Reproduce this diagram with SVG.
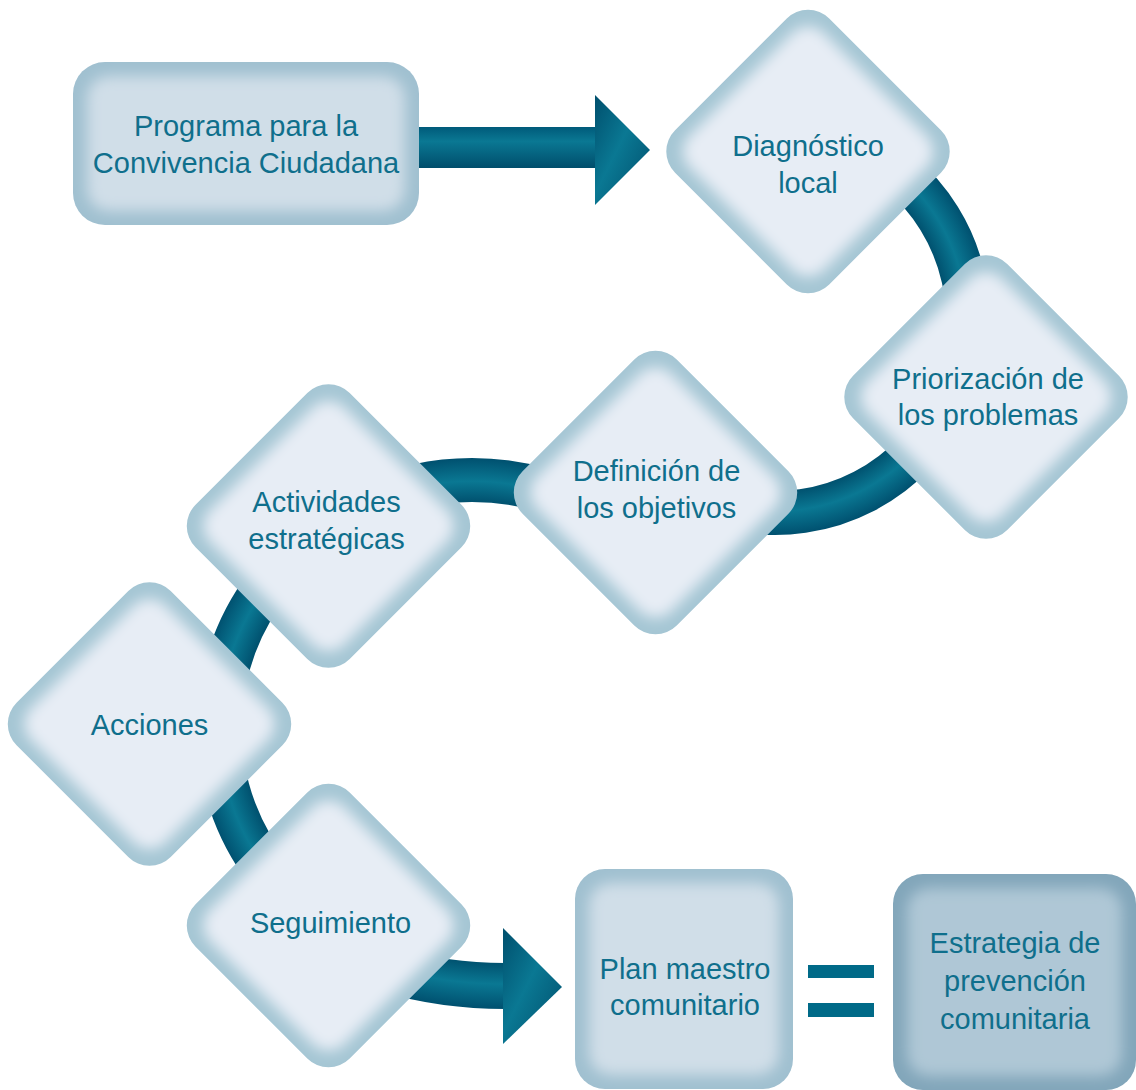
<svg xmlns="http://www.w3.org/2000/svg" xmlns:xlink="http://www.w3.org/1999/xlink" width="1136" height="1090" viewBox="0 0 1136 1090">
<style>
text{font-family:"Liberation Sans",Arial,sans-serif;font-size:29px;fill:#0f6f8c;text-anchor:middle}
.band{fill:none}
.eq{fill:#006a88}
</style>
<defs>
<filter id="blur" x="-20%" y="-20%" width="140%" height="140%"><feGaussianBlur stdDeviation="7"/></filter>
<clipPath id="clipDia"><rect x="-109" y="-109" width="218" height="218" rx="30"/></clipPath>
<g id="dia">
<rect x="-109" y="-109" width="218" height="218" rx="30" fill="#a5c6d4"/>
<g clip-path="url(#clipDia)"><rect x="-95" y="-95" width="190" height="190" rx="22" fill="#e7edf5" filter="url(#blur)"/></g>
</g>
<radialGradient id="g12" gradientUnits="userSpaceOnUse" cx="775" cy="320" r="215">
<stop offset="0.79" stop-color="#004f6d"/><stop offset="0.89" stop-color="#0a7893"/><stop offset="1" stop-color="#00506f"/>
</radialGradient>
<radialGradient id="g3" gradientUnits="userSpaceOnUse" cx="472" cy="731" r="273">
<stop offset="0.835" stop-color="#004f6d"/><stop offset="0.915" stop-color="#0a7893"/><stop offset="1" stop-color="#00506f"/>
</radialGradient>
<radialGradient id="g45" gradientUnits="userSpaceOnUse" cx="454" cy="728" r="258">
<stop offset="0.82" stop-color="#004f6d"/><stop offset="0.91" stop-color="#0a7893"/><stop offset="1" stop-color="#00506f"/>
</radialGradient>
<radialGradient id="g6" gradientUnits="userSpaceOnUse" cx="505" cy="555" r="454">
<stop offset="0.895" stop-color="#004f6d"/><stop offset="0.945" stop-color="#0a7893"/><stop offset="1" stop-color="#00506f"/>
</radialGradient>
<linearGradient id="shaft" x1="0" y1="0" x2="0" y2="1">
<stop offset="0" stop-color="#005a7a"/><stop offset="0.35" stop-color="#0a7893"/><stop offset="1" stop-color="#004d6b"/>
</linearGradient>
<linearGradient id="head" x1="0" y1="0" x2="1" y2="1">
<stop offset="0" stop-color="#004f6d"/><stop offset="0.45" stop-color="#0a7893"/><stop offset="1" stop-color="#004d6b"/>
</linearGradient>
<clipPath id="clipR1"><rect x="73" y="62" width="346" height="163" rx="32"/></clipPath>
<clipPath id="clipR2"><rect x="575" y="869" width="218" height="220" rx="30"/></clipPath>
<clipPath id="clipR3"><rect x="893" y="874" width="243" height="216" rx="30"/></clipPath>
</defs>

<g id="connectors">
<rect x="415" y="127" width="182" height="41" fill="url(#shaft)"/>
<polygon points="595,95 650,150 595,205" fill="url(#head)"/>
<path class="band" d="M 899.1 172.2 A 193 193 0 0 1 741.5 510.1" stroke="url(#g12)" stroke-width="44"/>
<path class="band" d="M 578.1 503.5 A 251 251 0 0 0 365.9 503.5" stroke="url(#g3)" stroke-width="44"/>
<path class="band" d="M 274 577 A 235 235 0 0 0 274 879" stroke="url(#g45)" stroke-width="45"/>
<path class="band" d="M 386.2 969.3 A 431 431 0 0 0 505 986" stroke="url(#g6)" stroke-width="46"/>
<polygon points="503,928 562,987 503,1044" fill="url(#head)"/>
<rect class="eq" x="808" y="965" width="66" height="13"/>
<rect class="eq" x="808" y="1003" width="66" height="14"/>
</g>

<g id="node-programa">
<rect x="73" y="62" width="346" height="163" rx="32" fill="#a0c0d0"/>
<g clip-path="url(#clipR1)"><rect x="87" y="76" width="318" height="135" rx="22" fill="#d0dee8" filter="url(#blur)"/></g>
<text x="246" y="136">Programa para la</text>
<text x="246" y="173">Convivencia Ciudadana</text>
</g>

<g id="node-diagnostico" transform="translate(808,151.5)">
<use xlink:href="#dia" transform="rotate(45)"/>
<text x="0" y="4">Diagnóstico</text>
<text x="0" y="41">local</text>
</g>

<g id="node-priorizacion" transform="translate(986,397)">
<use xlink:href="#dia" transform="rotate(45)"/>
<text x="2" y="-8">Priorización de</text>
<text x="2" y="28">los problemas</text>
</g>

<g id="node-definicion" transform="translate(655.5,492.5)">
<use xlink:href="#dia" transform="rotate(45)"/>
<text x="1" y="-12">Definición de</text>
<text x="1" y="25">los objetivos</text>
</g>

<g id="node-actividades" transform="translate(328.5,526)">
<use xlink:href="#dia" transform="rotate(45)"/>
<text x="-2" y="-14">Actividades</text>
<text x="-2" y="23">estratégicas</text>
</g>

<g id="node-acciones" transform="translate(149.5,724)">
<use xlink:href="#dia" transform="rotate(45)"/>
<text x="0" y="11">Acciones</text>
</g>

<g id="node-seguimiento" transform="translate(328.5,925.5)">
<use xlink:href="#dia" transform="rotate(45)"/>
<text x="2" y="7">Seguimiento</text>
</g>

<g id="node-plan">
<rect x="575" y="869" width="218" height="220" rx="30" fill="#a0c0d0"/>
<g clip-path="url(#clipR2)"><rect x="589" y="883" width="190" height="192" rx="22" fill="#d0dee8" filter="url(#blur)"/></g>
<text x="685" y="979">Plan maestro</text>
<text x="685" y="1015">comunitario</text>
</g>

<g id="node-estrategia">
<rect x="893" y="874" width="243" height="216" rx="30" fill="#82a6ba"/>
<g clip-path="url(#clipR3)"><rect x="907" y="888" width="215" height="188" rx="22" fill="#afc7d6" filter="url(#blur)"/></g>
<text x="1015" y="953">Estrategia de</text>
<text x="1015" y="991">prevención</text>
<text x="1015" y="1029">comunitaria</text>
</g>
</svg>
